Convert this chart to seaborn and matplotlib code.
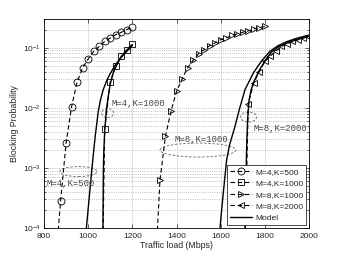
import matplotlib

matplotlib.use("Agg")
import matplotlib.pyplot as plt
import pandas as pd
import seaborn as sns
from matplotlib.patches import Ellipse
from matplotlib.ticker import NullFormatter

# simulation results: traffic load (Mbps) vs blocking probability
load_m4_k500 = [850, 875, 900, 925, 950, 975, 1000, 1025, 1050, 1075, 1100, 1125, 1150, 1175, 1200]
pb_m4_k500 = [2e-5, 2.8e-4, 2.6e-3, 1.05e-2, 2.7e-2, 4.6e-2, 6.5e-2, 8.7e-2, 0.105, 0.127,
              0.145, 0.165, 0.18, 0.2, 0.218]

load_m4_k1000 = [1050, 1075, 1100, 1125, 1150, 1175, 1200]
pb_m4_k1000 = [1e-8, 4.4e-3, 2.7e-2, 4.9e-2, 7.2e-2, 9.3e-2, 0.115]

load_m8_k1000 = [1300, 1325, 1350, 1375, 1400, 1425, 1450, 1475, 1500, 1525, 1550, 1575, 1600,
                 1625, 1650, 1675, 1700, 1725, 1750, 1775, 1800]
pb_m8_k1000 = [1e-5, 6.2e-4, 3.4e-3, 8.7e-3, 1.87e-2, 0.03, 0.046, 0.062, 0.079, 0.093, 0.108,
               0.12, 0.136, 0.145, 0.16, 0.17, 0.18, 0.19, 0.205, 0.215, 0.225]

load_m8_k2000 = [1700, 1725, 1750, 1775, 1800, 1825, 1850, 1875, 1900, 1925, 1950, 1975, 2000]
pb_m8_k2000 = [1e-6, 1.17e-2, 0.026, 0.04, 0.059, 0.073, 0.087, 0.105, 0.114, 0.127, 0.135,
               0.145, 0.153]

# analytical model curves
model_a_load = [985, 992, 1000, 1010, 1020, 1032, 1045, 1055, 1068, 1085, 1100, 1122, 1145,
                1167, 1185, 1200]
model_a_pb = [5.2e-5, 1e-4, 2.1e-4, 5.2e-4, 1.26e-3, 3.4e-3, 8.3e-3, 1.32e-2, 2e-2, 2.9e-2,
              3.7e-2, 5.1e-2, 6.6e-2, 8.1e-2, 9.5e-2, 0.11]

model_b_load = [1066, 1067, 1068, 1069, 1071, 1075, 1082, 1090, 1100, 1115, 1130, 1150, 1175, 1200]
model_b_pb = [5e-5, 1.26e-4, 4e-4, 1e-3, 2e-3, 4.2e-3, 8.9e-3, 1.48e-2, 2.5e-2, 4e-2, 5.2e-2,
              7.1e-2, 9.1e-2, 0.112]

model_c_load = [1590, 1597, 1605, 1615, 1627, 1640, 1662, 1685, 1710, 1748, 1785, 1823, 1860,
                1899, 1950, 2000]
model_c_pb = [5e-5, 1e-4, 2.1e-4, 5e-4, 1.35e-3, 2.4e-3, 4.5e-3, 9.5e-3, 2e-2, 3.8e-2, 6e-2,
              8.7e-2, 0.108, 0.126, 0.145, 0.162]

model_d_load = [1708, 1711, 1713, 1715, 1718, 1722, 1728, 1738, 1750, 1775, 1800, 1830, 1860,
                1900, 1950, 2000]
model_d_pb = [5e-5, 1.26e-4, 3.2e-4, 8e-4, 2.5e-3, 6.3e-3, 1.3e-2, 2e-2, 2.7e-2, 4.2e-2, 6e-2,
              8.5e-2, 0.102, 0.12, 0.138, 0.155]

x_ticks = [800, 1000, 1200, 1400, 1600, 1800, 2000]

sns.set_style("ticks", {"xtick.direction": "in", "ytick.direction": "in"})
plt.rcParams["font.family"] = ["Liberation Sans", "DejaVu Sans"]

fig = plt.figure(figsize=(3.42, 2.58), dpi=100)
ax = fig.add_axes([0.1287, 0.1163, 0.7748, 0.8101])
ax.set_yscale("log")

handles = []
series = [
    (load_m4_k500, pb_m4_k500, "o", "M=4,K=500"),
    (load_m4_k1000, pb_m4_k1000, "s", "M=4,K=1000"),
    (load_m8_k1000, pb_m8_k1000, ">", "M=8,K=1000"),
    (load_m8_k2000, pb_m8_k2000, "<", "M=8,K=2000"),
]
for xs, ys, mk, name in series:
    df = pd.DataFrame({"load": xs, "pb": ys})
    sns.lineplot(data=df, x="load", y="pb", ax=ax, color="k", ls=(0, (4, 2.5)), lw=0.8,
                 marker=mk, ms=5, mfc="none", mec="k", mew=0.6, errorbar=None, sort=False)
    ax.lines[-1].set_label(name)
    handles.append(ax.lines[-1])

for i, (xs, ys) in enumerate([(model_a_load, model_a_pb), (model_b_load, model_b_pb),
                              (model_c_load, model_c_pb), (model_d_load, model_d_pb)]):
    df = pd.DataFrame({"load": xs, "pb": ys})
    sns.lineplot(data=df, x="load", y="pb", ax=ax, color="k", lw=1.0, errorbar=None, sort=False)
    if i == 0:
        ax.lines[-1].set_label("Model")
        handles.append(ax.lines[-1])

ax.set_xlim(800, 2000)
ax.set_ylim(1e-4, 0.3)
ax.set_xticks(x_ticks)
ax.yaxis.set_minor_formatter(NullFormatter())
ax.tick_params(which="both", top=True, right=True, labelsize=6, width=0.5)
ax.tick_params(axis="x", pad=3.5)
ax.tick_params(axis="y", pad=2)
ax.tick_params(which="major", length=3)
ax.tick_params(which="minor", length=1.5)
ax.yaxis.grid(True, which="both", ls=":", lw=0.5, color="#9a9a9a")
ax.xaxis.grid(True, which="major", ls=":", lw=0.5, color="#9a9a9a")
for s in ax.spines.values():
    s.set_linewidth(0.6)
    s.set_color("k")

ax.set_xlabel("Traffic load (Mbps)", fontsize=6.3, labelpad=1)
ax.set_ylabel("Blocking Probability", fontsize=6.3, labelpad=3)

# annotations
mono = ["Liberation Mono", "DejaVu Sans Mono"]
notes = [("M=4,K=500", 0.008, 0.213), ("M=4,K=1000", 0.255, 0.596),
         ("M=8,K=1000", 0.491, 0.423), ("M=8,K=2000", 0.789, 0.476)]
for txt, tx, ty in notes:
    ax.text(tx, ty, txt, transform=ax.transAxes, family=mono, fontsize=6.4, color="#444444",
            va="center", ha="left", clip_on=False)

rings = [(0.130, 0.270, 0.140, 0.048), (0.240, 0.550, 0.045, 0.043),
         (0.581, 0.373, 0.287, 0.067), (0.772, 0.531, 0.060, 0.048)]
for cx, cy, w, h in rings:
    ax.add_patch(Ellipse((cx, cy), w, h, transform=ax.transAxes, fill=False,
                         ls=(0, (3, 2)), lw=0.6, ec="#666666"))

leg = ax.legend(handles, [h.get_label() for h in handles], loc="lower right",
                bbox_to_anchor=(0.99, 0.015), fontsize=6, frameon=True, fancybox=False,
                edgecolor="k", framealpha=1, handlelength=2.6, borderpad=0.35,
                labelspacing=0.45, handletextpad=0.4, borderaxespad=0)
leg.get_frame().set_linewidth(0.5)

fig.savefig("out.png", dpi=100)
